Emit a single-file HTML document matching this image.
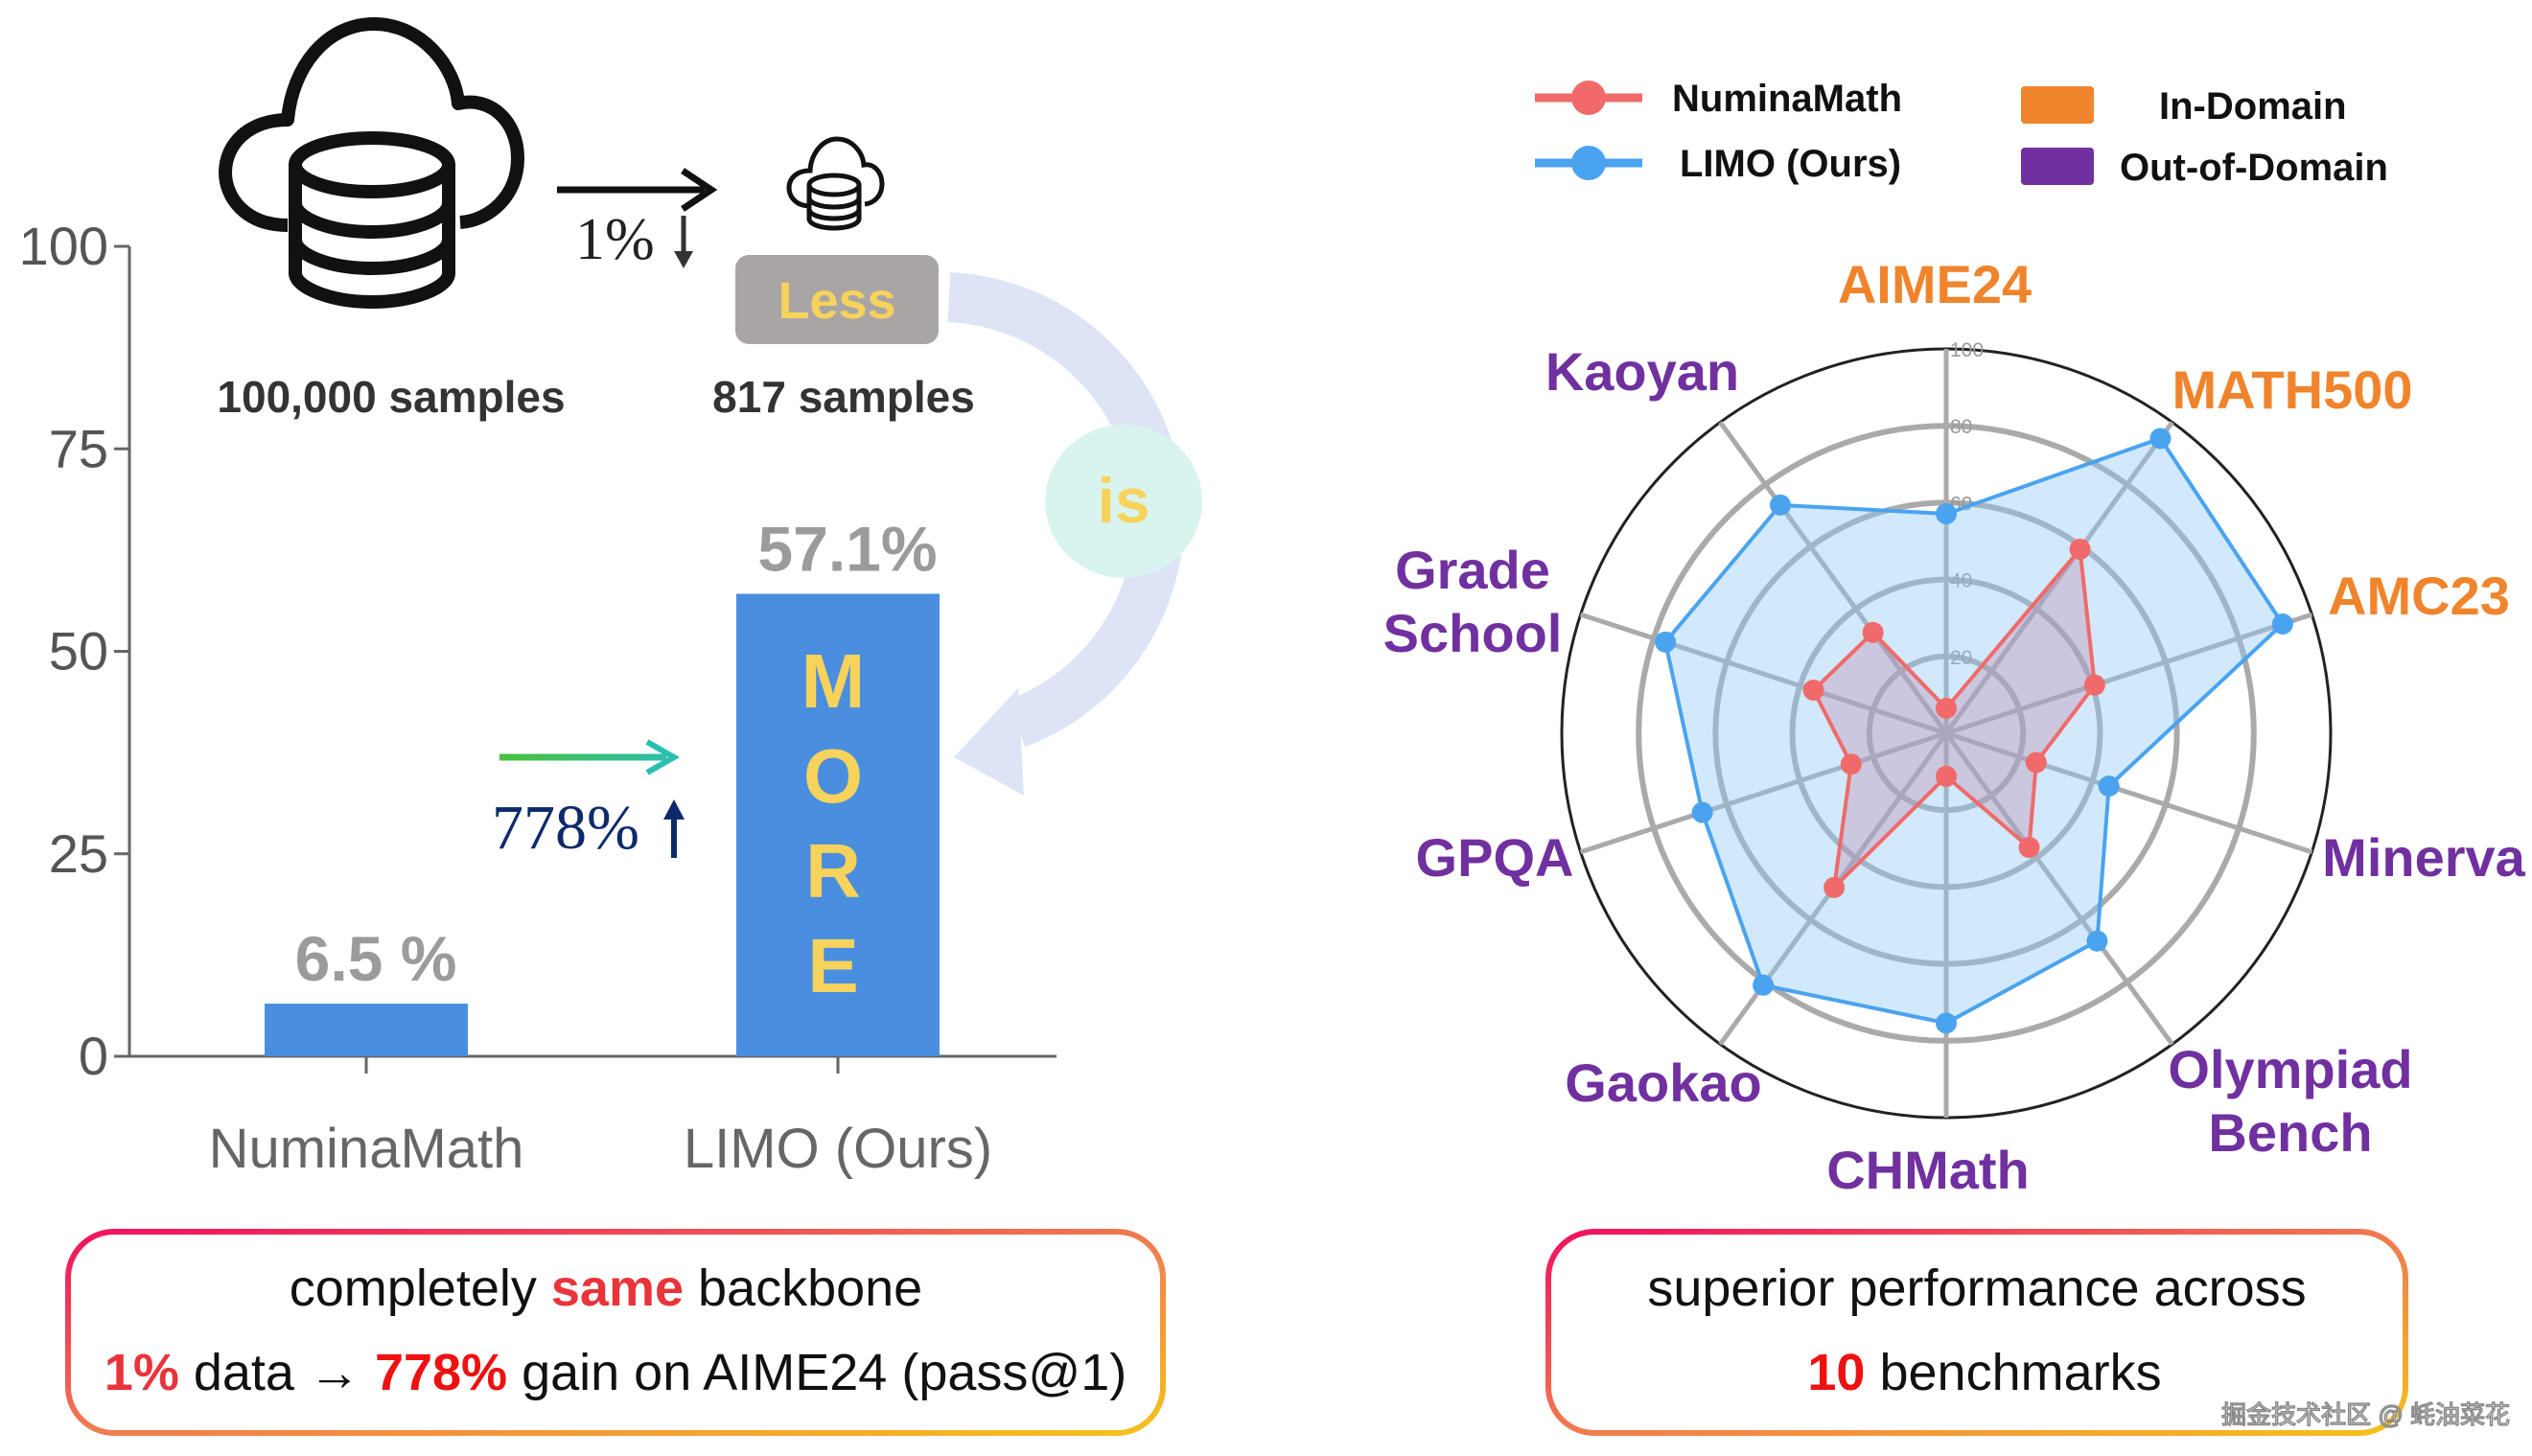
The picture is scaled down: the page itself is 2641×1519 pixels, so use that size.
<!DOCTYPE html>
<html><head><meta charset="utf-8"><style>
html,body{margin:0;padding:0;background:#fff;}
svg{display:block;font-family:"Liberation Sans","Noto Sans CJK SC",sans-serif;}
</style></head><body>
<svg id="root" width="2641" height="1519" viewBox="0 0 2641 1519">
<defs>
<linearGradient id="bgrad" x1="0" y1="0" x2="1" y2="1">
<stop offset="0" stop-color="#f0115e"/><stop offset="0.5" stop-color="#f07a50"/><stop offset="1" stop-color="#f5c21c"/>
</linearGradient>
<linearGradient id="ggrad" gradientUnits="userSpaceOnUse" x1="521" y1="0" x2="703" y2="0"><stop offset="0" stop-color="#4cbf3c"/><stop offset="1" stop-color="#2bbfb0"/></linearGradient>
</defs>
<g id="bar"></g>
<g>
<g fill="none" stroke="#111" stroke-width="14" stroke-linejoin="round">
<path d="M300,235 C255,235 235,205 235,180 C235,150 260,125 300,125 C305,70 340,25 390,25 C440,25 475,70 478,108 C510,100 540,125 540,165 C540,205 510,230 480,232"/>
<ellipse cx="388" cy="172" rx="80" ry="28"/>
<path d="M308,172 V285 C308,300 345,315 388,315 C431,315 468,300 468,285 V172"/>
<path d="M308,212 C308,228 345,242 388,242 C431,242 468,228 468,212"/>
<path d="M308,250 C308,266 345,280 388,280 C431,280 468,266 468,250"/>
</g>
<g fill="none" stroke="#111" stroke-width="5">
<path d="M845,215 C830,215 823,205 823,196 C823,186 831,178 845,178 C846,160 858,145 873,145 C890,145 900,160 901,172 C912,170 920,180 920,192 C920,204 912,212 902,213"/>
<ellipse cx="870" cy="193" rx="26" ry="10"/>
<path d="M844,193 V228 C844,234 856,238 870,238 C884,238 896,234 896,228 V193"/>
<path d="M844,206 C844,212 856,216 870,216 C884,216 896,212 896,206"/>
<path d="M844,218 C844,224 856,228 870,228 C884,228 896,224 896,218"/>
</g>
<g>
<line x1="581" y1="198" x2="735" y2="198" stroke="#111" stroke-width="7"/>
<path d="M712,178 L742,198 L712,218" fill="none" stroke="#111" stroke-width="7"/>
</g>
<text x="600" y="270" font-family="Liberation Serif,serif" font-size="62" fill="#222">1%</text>
<g><line x1="713" y1="225" x2="713" y2="270" stroke="#333" stroke-width="5"/><path d="M703,262 L713,280 L723,262Z" fill="#333"/></g>
<rect x="767" y="266" width="212" height="93" rx="14" fill="#aaa5a5"/>
<text x="873" y="332" text-anchor="middle" font-size="54" font-weight="bold" fill="#f7d35c">Less</text>
<text x="408" y="430" text-anchor="middle" font-size="46" font-weight="bold" fill="#333">100,000 samples</text>
<text x="880" y="430" text-anchor="middle" font-size="46" font-weight="bold" fill="#333">817 samples</text>
<g>
<path d="M990,310 A230,230 0 0 1 1060,755" fill="none" stroke="#dce4f5" stroke-width="52"/>
<path d="M995,790 L1062,718 L1068,830 Z" fill="#dce4f5"/>
</g>
<ellipse cx="1172" cy="523" rx="82" ry="80" fill="#d9f4ef"/>
<text x="1172" y="545" text-anchor="middle" font-size="66" font-weight="bold" fill="#f7d35c">is</text>
<g>
<line x1="521" y1="790" x2="695" y2="790" stroke="url(#ggrad)" stroke-width="7"/>
<path d="M675,774 L703,790 L675,806" fill="none" stroke="#2bbfb0" stroke-width="6"/>
</g>
<text x="513" y="885" font-family="Liberation Serif,serif" font-size="66" fill="#0d2a6b">778%</text>
<g><line x1="703" y1="845" x2="703" y2="895" stroke="#0d2a6b" stroke-width="6"/><path d="M692,855 L703,834 L714,855Z" fill="#0d2a6b"/></g>
</g>
<g id="more" font-size="80" font-weight="bold" fill="#f7d35c" text-anchor="middle"></g>
<g id="radar"></g>
<g>
<g><line x1="1601" y1="102" x2="1713" y2="102" stroke="#f06a6a" stroke-width="9"/><circle cx="1657" cy="102" r="18" fill="#f06a6a"/>
<text x="1744" y="116" font-size="40" font-weight="bold" fill="#111">NuminaMath</text></g>
<g><line x1="1601" y1="170" x2="1713" y2="170" stroke="#4aa3ef" stroke-width="9"/><circle cx="1657" cy="170" r="18" fill="#4aa3ef"/>
<text x="1752" y="184" font-size="40" font-weight="bold" fill="#111">LIMO (Ours)</text></g>
<g><rect x="2108" y="90" width="76" height="39" rx="4" fill="#f0842c"/><text x="2252" y="124" font-size="40" font-weight="bold" fill="#111">In-Domain</text></g>
<g><rect x="2108" y="154" width="76" height="39" rx="4" fill="#7030a0"/><text x="2211" y="188" font-size="40" font-weight="bold" fill="#111">Out-of-Domain</text></g>
</g>
<g>
<rect x="71" y="1285" width="1142" height="210" rx="48" fill="#fff" stroke="url(#bgrad)" stroke-width="6"/>
<text x="632" y="1362" text-anchor="middle" font-size="54" fill="#111">completely <tspan fill="#e8343a" font-weight="bold">same</tspan> backbone</text>
<text x="642" y="1450" text-anchor="middle" font-size="54" fill="#111"><tspan fill="#e8343a" font-weight="bold">1%</tspan> data → <tspan fill="#ee1111" font-weight="bold">778%</tspan> gain on AIME24 (pass@1)</text>
</g>
<g>
<rect x="1615" y="1285" width="894" height="210" rx="48" fill="#fff" stroke="url(#bgrad)" stroke-width="6"/>
<text x="2062" y="1362" text-anchor="middle" font-size="54" fill="#111">superior performance across</text>
<text x="2070" y="1450" text-anchor="middle" font-size="54" fill="#111"><tspan fill="#ee1111" font-weight="bold">10</tspan> benchmarks</text>
</g>
<text x="2618" y="1485" text-anchor="end" font-size="26" fill="#fff" stroke="#888" stroke-width="1.5">掘金技术社区 @ 蚝油菜花</text>
</svg>
<script>
const barCategories=["NuminaMath","LIMO (Ours)"];
const barValues=[6.5,57.1];
const barValueLabels=["6.5 %","57.1%"];
const yTicks=[0,25,50,75,100];
const radarAxes=["AIME24","MATH500","AMC23","Minerva","Olympiad Bench","CHMath","Gaokao","GPQA","Grade School","Kaoyan"];
const radarNumina=[6.5,59.2,40.6,24.6,36.7,11.2,49.6,26.0,36.3,32.4];
const radarLimo=[57.1,94.8,92.0,44.5,66.8,75.4,81.0,66.7,76.8,73.4];
const radarRings=[20,40,60,80,100];
const inDomain=["AIME24","MATH500","AMC23"];
const NS="http://www.w3.org/2000/svg";
function mk(t,a,p){const e=document.createElementNS(NS,t);for(const k in a)e.setAttribute(k,a[k]);p.appendChild(e);return e;}
const bar=document.getElementById('bar');
const y0=1102,yTop=257,xL=135,xR=1102;
const yS=v=>y0-(v/100)*(y0-yTop);
const barCx=[382,874];const bw=212;
mk('line',{x1:xL,y1:yTop,x2:xL,y2:y0,stroke:'#666','stroke-width':3},bar);
mk('line',{x1:xL,y1:y0,x2:xR,y2:y0,stroke:'#666','stroke-width':3},bar);
yTicks.forEach(t=>{
 const l=mk('line',{x1:xL-16,y1:yS(t),x2:xL,y2:yS(t),stroke:'#666','stroke-width':3},bar);
 
 
 const tx=mk('text',{x:xL-22,y:yS(t)+19,'text-anchor':'end','font-size':56,fill:'#555'},bar);
 tx.textContent=t;
 
 
});
barCategories.forEach((c,i)=>{
 const r=mk('rect',{x:barCx[i]-bw/2,y:yS(barValues[i]),width:bw,height:y0-yS(barValues[i]),fill:'#4a8ee0'},bar);
 
 
 mk('line',{x1:barCx[i],y1:y0,x2:barCx[i],y2:y0+18,stroke:'#666','stroke-width':3},bar);
 const lb=mk('text',{x:barCx[i],y:1218,'text-anchor':'middle','font-size':58,fill:'#666'},bar);
 lb.textContent=c;
 
 
 const vl=mk('text',{x:barCx[i]+10,y:yS(barValues[i])-24,'text-anchor':'middle','font-size':66,'font-weight':'bold',fill:'#9b9b9b'},bar);
 vl.textContent=barValueLabels[i];
 
 
});
const more=document.getElementById('more');
"MORE".split('').forEach((ch,i)=>{const t=mk('text',{x:869,y:738+i*99},more);t.textContent=ch;
 
 });
const rg=document.getElementById('radar');
const cx=2030,cy=765,R=401;
const ang=i=>(-90+i*36)*Math.PI/180;
const pt=(i,v)=>[cx+Math.cos(ang(i))*R*v/100,cy+Math.sin(ang(i))*R*v/100];
radarRings.forEach(v=>{
 const c=mk('circle',{cx:cx,cy:cy,r:R*v/100,fill:'none',stroke:v===100?'#222':'#aaa','stroke-width':v===100?3:6},rg);
 
 
 const t=mk('text',{x:cx+4,y:cy-R*v/100+8,'font-size':21,fill:'#999'},rg);t.textContent=v;
 
 
});
radarAxes.forEach((a,i)=>{const p=pt(i,100);
 const l=mk('line',{x1:cx,y1:cy,x2:p[0],y2:p[1],stroke:'#aaa','stroke-width':5},rg);
 
 });
function series(vals,fill,stroke,op,name){
 const pts=vals.map((v,i)=>pt(i,v));
 const pg=mk('polygon',{points:pts.map(p=>p.join(',')).join(' '),fill:fill,'fill-opacity':op,stroke:stroke,'stroke-width':4},rg);
 
 
 pts.forEach(p=>{const c=mk('circle',{cx:p[0],cy:p[1],r:11,fill:stroke},rg);
  
  });
}
series(radarLimo,'#8cc8f5','#4aa3ef',0.4,'limo');
series(radarNumina,'#c08aa8','#f06a6a',0.35,'numinamath');
const labelPos=[[2018,316],[2391,426],[2523,641],[2528,914],[2389,1135],[2011,1240],[1735,1149],[1559,914],[1536,614],[1713,407]];
radarAxes.forEach((a,i)=>{
 const col=inDomain.includes(a)?'#f0842c':'#7030a0';
 const t=mk('text',{x:labelPos[i][0],y:labelPos[i][1],'text-anchor':'middle','font-size':56,'font-weight':'bold',fill:col},rg);
 
 
 const w=a.split(' ');
 if(w.length>1){w.forEach((s,j)=>{const ts=mk('tspan',{x:labelPos[i][0],dy:j?66:0},t);ts.textContent=s;});}
 else t.textContent=a;
});
</script>
</body></html>
